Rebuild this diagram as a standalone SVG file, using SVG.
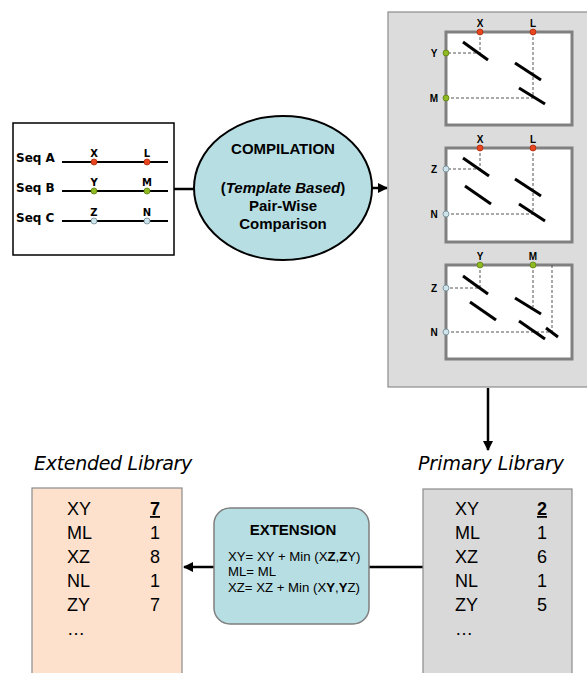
<svg xmlns="http://www.w3.org/2000/svg" width="587" height="673" viewBox="0 0 587 673">
  <style>
    .sans { font-family: "Liberation Sans", Arial, sans-serif; }
    .hand { font-family: "DejaVu Sans", "Liberation Sans", sans-serif; }
    .seq { stroke: #000; stroke-width: 2; }
    .conn { stroke: #000; stroke-width: 2.5; fill: none; }
    .dash { stroke: #555; stroke-width: 1; stroke-dasharray: 3 2; fill: none; }
    .seg { stroke: #000; stroke-width: 3; stroke-linecap: butt; }
    .sub { fill: #fff; stroke: #808080; stroke-width: 3; }
    .red { fill: #e8461e; stroke: #b02a0c; stroke-width: 0.8; }
    .grn { fill: #8fba22; stroke: #5d7d10; stroke-width: 0.8; }
    .blu { fill: #cfe4ea; stroke: #6d8a96; stroke-width: 0.8; }
    .lbl { font-family: "Liberation Sans", Arial, sans-serif; font-size: 10px; font-weight: bold; text-anchor: middle; }
    .row { font-family: "Liberation Sans", Arial, sans-serif; font-size: 18px; }
  </style>
  <defs>
    <marker id="arrow" viewBox="0 0 10 10" refX="9" refY="5" markerWidth="4" markerHeight="4" orient="auto">
      <path d="M0,0 L10,5 L0,10 z" fill="#000"/>
    </marker>
  </defs>

  <rect width="587" height="673" fill="#fff"/>

  <!-- connectors -->
  <g id="connectors">
    <line class="conn" x1="174" y1="189" x2="194" y2="189"/>
    <line class="conn" x1="372" y1="188" x2="387" y2="188" marker-end="url(#arrow)"/>
    <line class="conn" x1="488" y1="388" x2="488" y2="450" marker-end="url(#arrow)"/>
    <line class="conn" x1="423" y1="567" x2="369" y2="567"/>
    <line class="conn" x1="214" y1="567" x2="184" y2="567" marker-end="url(#arrow)"/>
  </g>

  <!-- sequences -->
  <g id="sequences">
    <rect x="13" y="123" width="161" height="132" fill="#fff" stroke="#000" stroke-width="1.5"/>
    <g class="hand" font-size="12" font-weight="bold">
      <text x="16" y="162">Seq A</text>
      <text x="16" y="192">Seq B</text>
      <text x="16" y="222">Seq C</text>
    </g>
    <line class="seq" x1="62" y1="162" x2="168" y2="162"/>
    <line class="seq" x1="62" y1="191" x2="168" y2="191"/>
    <line class="seq" x1="62" y1="221" x2="168" y2="221"/>
    <circle class="red" cx="94" cy="162" r="3"/>
    <circle class="red" cx="147" cy="162" r="3"/>
    <circle class="grn" cx="94" cy="191" r="3"/>
    <circle class="grn" cx="147" cy="191" r="3"/>
    <circle class="blu" cx="94" cy="221" r="3"/>
    <circle class="blu" cx="147" cy="221" r="3"/>
    <g class="hand" font-size="10" font-weight="bold" text-anchor="middle">
      <text x="94" y="157">X</text>
      <text x="147" y="157">L</text>
      <text x="94" y="186">Y</text>
      <text x="147" y="186">M</text>
      <text x="94" y="216">Z</text>
      <text x="147" y="216">N</text>
    </g>
  </g>

  <!-- compilation -->
  <g id="compilation">
    <ellipse cx="283" cy="188" rx="89" ry="72" fill="#b7dee3" stroke="#000" stroke-width="2"/>
    <g class="sans" font-size="15" font-weight="bold" text-anchor="middle">
      <text x="283" y="154">COMPILATION</text>
      <text x="283" y="193">(<tspan font-style="italic">Template Based</tspan>)</text>
      <text x="283" y="211">Pair-Wise</text>
      <text x="283" y="229">Comparison</text>
    </g>
  </g>

  <!-- pair-wise comparisons -->
  <g id="comparisons">
    <rect x="388" y="12" width="205" height="375" fill="#dcdcdc" stroke="#8c8c8c" stroke-width="1.2"/>

    <!-- X/L against Y/M -->
    <g id="cmp-xl-ym">
      <rect class="sub" x="446" y="32" width="126" height="93"/>
      <path class="dash" d="M480,32 V53 H446 M533,32 V98 H446"/>
      <line class="seg" x1="463" y1="42" x2="488" y2="60"/>
      <line class="seg" x1="515" y1="63" x2="541" y2="80"/>
      <line class="seg" x1="519" y1="88" x2="545" y2="104"/>
      <circle class="red" cx="480" cy="32" r="3"/>
      <circle class="red" cx="533" cy="32" r="3"/>
      <circle class="grn" cx="446" cy="53" r="3"/>
      <circle class="grn" cx="446" cy="98" r="3"/>
      <text class="lbl" x="480" y="27">X</text>
      <text class="lbl" x="533" y="27">L</text>
      <text class="lbl" x="434" y="57">Y</text>
      <text class="lbl" x="434" y="102">M</text>
    </g>

    <!-- X/L against Z/N -->
    <g id="cmp-xl-zn">
      <rect class="sub" x="446" y="148" width="126" height="94"/>
      <path class="dash" d="M480,148 V169 H446 M533,148 V214 H446"/>
      <line class="seg" x1="463" y1="158" x2="489" y2="176"/>
      <line class="seg" x1="465" y1="186" x2="491" y2="204"/>
      <line class="seg" x1="515" y1="179" x2="541" y2="196"/>
      <line class="seg" x1="519" y1="204" x2="545" y2="221"/>
      <circle class="red" cx="480" cy="148" r="3"/>
      <circle class="red" cx="533" cy="148" r="3"/>
      <circle class="blu" cx="446" cy="169" r="3"/>
      <circle class="blu" cx="446" cy="214" r="3"/>
      <text class="lbl" x="480" y="143">X</text>
      <text class="lbl" x="533" y="143">L</text>
      <text class="lbl" x="434" y="173">Z</text>
      <text class="lbl" x="434" y="218">N</text>
    </g>

    <!-- Y/M against Z/N -->
    <g id="cmp-ym-zn">
      <rect class="sub" x="446" y="265" width="126" height="94"/>
      <path class="dash" d="M480,265 V288 H446 M533,265 V307 M552,265 V332 H446"/>
      <line class="seg" x1="463" y1="276" x2="488" y2="294"/>
      <line class="seg" x1="470" y1="302" x2="496" y2="320"/>
      <line class="seg" x1="515" y1="298" x2="541" y2="314"/>
      <line class="seg" x1="519" y1="321" x2="545" y2="339"/>
      <line class="seg" x1="546" y1="328" x2="558" y2="337"/>
      <circle class="grn" cx="480" cy="265" r="3"/>
      <circle class="grn" cx="533" cy="265" r="3"/>
      <circle class="blu" cx="446" cy="288" r="3"/>
      <circle class="blu" cx="446" cy="332" r="3"/>
      <text class="lbl" x="480" y="260">Y</text>
      <text class="lbl" x="533" y="260">M</text>
      <text class="lbl" x="434" y="292">Z</text>
      <text class="lbl" x="434" y="336">N</text>
    </g>
  </g>

  <!-- primary library -->
  <g id="primary-library">
    <text class="hand" x="491" y="470" font-size="19" font-style="italic" text-anchor="middle">Primary Library</text>
    <rect x="423" y="489" width="149" height="200" fill="#d9d9d9" stroke="#8c8c8c" stroke-width="1.2"/>
    <g class="row">
      <text x="455" y="515">XY</text>
      <text x="455" y="539">ML</text>
      <text x="455" y="563">XZ</text>
      <text x="455" y="587">NL</text>
      <text x="455" y="611">ZY</text>
      <text x="455" y="635">…</text>
      <g text-anchor="middle">
        <text x="542" y="515" font-weight="bold" text-decoration="underline">2</text>
        <text x="542" y="539">1</text>
        <text x="542" y="563">6</text>
        <text x="542" y="587">1</text>
        <text x="542" y="611">5</text>
      </g>
    </g>
  </g>

  <!-- extension -->
  <g id="extension">
    <rect x="214" y="508" width="155" height="116" rx="16" fill="#b7dee3" stroke="#7f7f7f" stroke-width="1.5"/>
    <text class="sans" x="293" y="535" font-size="15" font-weight="bold" text-anchor="middle">EXTENSION</text>
    <g class="sans" font-size="13.2">
      <text x="228" y="561">XY= XY + Min (X<tspan font-weight="bold">Z</tspan>,<tspan font-weight="bold">Z</tspan>Y)</text>
      <text x="228" y="576">ML= ML</text>
      <text x="228" y="592">XZ= XZ + Min (X<tspan font-weight="bold">Y</tspan>,<tspan font-weight="bold">Y</tspan>Z)</text>
    </g>
  </g>

  <!-- extended library -->
  <g id="extended-library">
    <text class="hand" x="113" y="470" font-size="19" font-style="italic" text-anchor="middle" letter-spacing="-0.3">Extended Library</text>
    <rect x="32" y="488" width="150" height="200" fill="#fde1cd" stroke="#8c8c8c" stroke-width="1.2"/>
    <g class="row">
      <text x="67" y="515">XY</text>
      <text x="67" y="539">ML</text>
      <text x="67" y="563">XZ</text>
      <text x="67" y="587">NL</text>
      <text x="67" y="611">ZY</text>
      <text x="67" y="635">…</text>
      <g text-anchor="middle">
        <text x="155" y="515" font-weight="bold" text-decoration="underline">7</text>
        <text x="155" y="539">1</text>
        <text x="155" y="563">8</text>
        <text x="155" y="587">1</text>
        <text x="155" y="611">7</text>
      </g>
    </g>
  </g>
</svg>
